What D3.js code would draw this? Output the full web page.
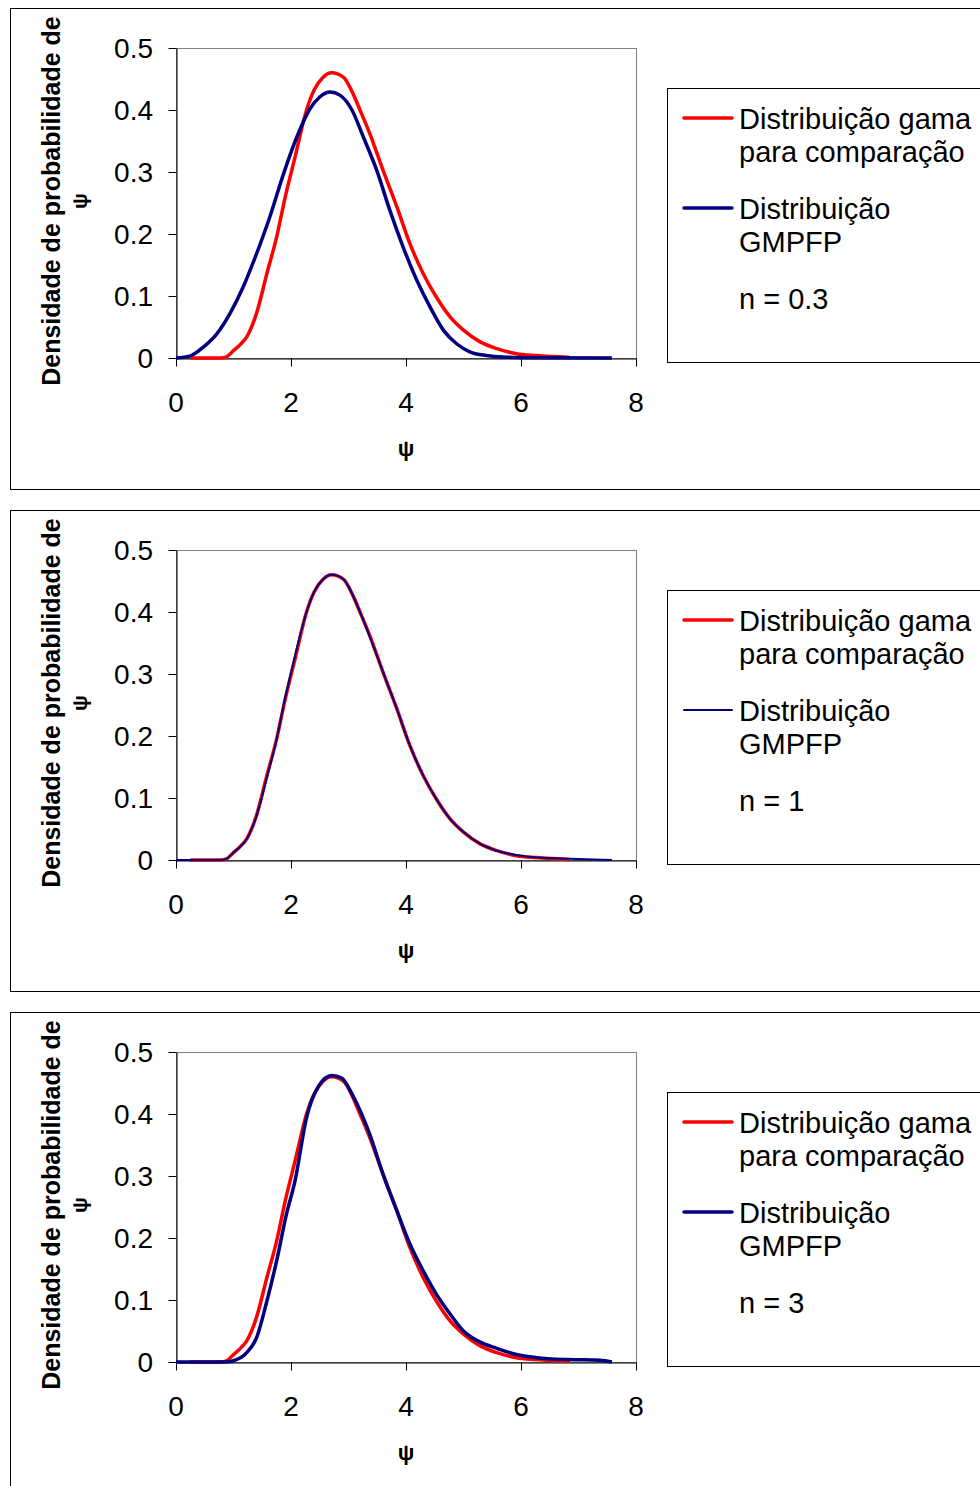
<!DOCTYPE html>
<html>
<head>
<meta charset="utf-8">
<script src="https://cdn.jsdelivr.net/npm/d3@7"></script>
<style>
  body { margin: 0; background: #fff; }
  text { font-family: "Liberation Sans", Arial, sans-serif; fill: #000; }
</style>
</head>
<body>
<div id="chart"></div>
<script>
// tick values
var xTicks = [0, 2, 4, 6, 8];
var yTicks = [0, 0.1, 0.2, 0.3, 0.4, 0.5];

// gamma distribution (red), same in all three panels
var psiGamma = [0.25, 0.77, 0.88, 1.0, 1.12, 1.23, 1.40, 1.58, 1.75, 1.90, 2.07, 2.27, 2.40, 2.55, 2.71, 2.91, 3.08, 3.20, 3.37, 3.60, 3.84, 4.07, 4.30, 4.53, 4.77, 5.0, 5.29, 5.58, 5.92, 6.27, 6.85];
var densGamma = [0, 0, 0.002, 0.012, 0.022, 0.034, 0.072, 0.136, 0.195, 0.26, 0.324, 0.40, 0.432, 0.452, 0.460, 0.453, 0.426, 0.40, 0.362, 0.303, 0.244, 0.184, 0.136, 0.098, 0.066, 0.045, 0.026, 0.015, 0.007, 0.004, 0.001];

// GMPFP, n = 0.3
var psiGmpfp03 = [0, 0.24, 0.48, 0.71, 0.94, 1.17, 1.40, 1.63, 1.87, 2.10, 2.33, 2.50, 2.68, 2.85, 3.06, 3.26, 3.49, 3.72, 3.95, 4.19, 4.42, 4.65, 4.88, 5.11, 5.40, 5.69, 6.2, 7.58];
var densGmpfp03 = [0, 0.003, 0.018, 0.039, 0.072, 0.115, 0.168, 0.227, 0.297, 0.356, 0.402, 0.421, 0.429, 0.424, 0.40, 0.356, 0.303, 0.238, 0.179, 0.125, 0.082, 0.045, 0.023, 0.010, 0.004, 0.0015, 0.0005, 0];

// GMPFP, n = 1
var psiGmpfp1 = [0, 0.77, 0.88, 1.0, 1.12, 1.23, 1.40, 1.58, 1.75, 1.90, 2.07, 2.27, 2.40, 2.55, 2.71, 2.91, 3.08, 3.20, 3.37, 3.60, 3.84, 4.07, 4.30, 4.53, 4.77, 5.0, 5.29, 5.58, 5.92, 6.27, 6.85, 7.58];
var densGmpfp1 = [0, 0, 0.002, 0.012, 0.022, 0.034, 0.071, 0.133, 0.195, 0.262, 0.330, 0.400, 0.432, 0.452, 0.460, 0.453, 0.426, 0.40, 0.360, 0.303, 0.244, 0.184, 0.136, 0.098, 0.066, 0.045, 0.026, 0.015, 0.008, 0.004, 0.002, 0];

// GMPFP, n = 3
var psiGmpfp3 = [0, 0.85, 1.0, 1.23, 1.40, 1.58, 1.75, 1.92, 2.07, 2.27, 2.48, 2.71, 2.88, 3.08, 3.37, 3.60, 3.84, 4.07, 4.30, 4.53, 4.77, 5.0, 5.29, 5.58, 5.92, 6.27, 6.8, 7.37, 7.58];
var densGmpfp3 = [0, 0, 0.002, 0.015, 0.039, 0.098, 0.163, 0.238, 0.292, 0.394, 0.445, 0.462, 0.458, 0.429, 0.367, 0.303, 0.244, 0.190, 0.147, 0.109, 0.077, 0.050, 0.032, 0.022, 0.012, 0.007, 0.004, 0.003, 0];

var legendGamma = ["Distribuição gama", "para comparação"];
var legendGmpfp = ["Distribuição", "GMPFP"];
var nLabels = ["n = 0.3", "n = 1", "n = 3"];

var panels = [
  { psi: psiGmpfp03, dens: densGmpfp03, label: nLabels[0], blueWidth: 3.5 },
  { psi: psiGmpfp1, dens: densGmpfp1, label: nLabels[1], blueWidth: 2 },
  { psi: psiGmpfp3, dens: densGmpfp3, label: nLabels[2], blueWidth: 3.5 }
];

var svgWidth = 980;
var svgHeight = 1486;
var panelStep = 502;

var plot = { left: 176, top: 48, width: 460, height: 310 };

var svg = d3.select("#chart")
  .append("svg")
  .attr("width", svgWidth)
  .attr("height", svgHeight);

var xScale = d3.scaleLinear().domain([0, 8]).range([plot.left, plot.left + plot.width]);
var yScale = d3.scaleLinear().domain([0, 0.5]).range([plot.top + plot.height, plot.top]);

function addText(g, x, y, str, opts) {
  opts = opts || {};
  return g.append("text")
    .attr("transform", `translate(${x}, ${y})` + (opts.rotate ? " rotate(-90)" : ""))
    .attr("text-anchor", opts.anchor || "start")
    .style("font-size", (opts.size || 29) + "px")
    .style("font-weight", opts.bold ? "bold" : "normal")
    .text(str);
}

function toPoints(xs, ys) {
  return xs.map(function (x, i) { return [x, ys[i]]; });
}

var line = d3.line()
  .x(d => xScale(d[0]))
  .y(d => yScale(d[1]))
  .curve(d3.curveMonotoneX);

panels.forEach(function (p, i) {
  var g = svg.append("g").attr("transform", `translate(0, ${i * panelStep})`);

  // outer frame
  g.append("rect")
    .attr("x", 10.5).attr("y", 8.5)
    .attr("width", 1000).attr("height", 481)
    .attr("fill", "none").attr("stroke", "#000").attr("stroke-width", 1);

  // plot area frame
  g.append("rect")
    .attr("x", plot.left + 0.5).attr("y", plot.top + 0.5)
    .attr("width", plot.width).attr("height", plot.height)
    .attr("fill", "none").attr("stroke", "#808080").attr("stroke-width", 1);

  // axes
  var leftAxis = d3.axisLeft(yScale).tickValues(yTicks).tickSize(8).tickSizeOuter(0).tickFormat("");
  var bottomAxis = d3.axisBottom(xScale).tickValues(xTicks).tickSize(8).tickSizeOuter(0).tickFormat("");

  var yAxisG = g.append("g").attr("transform", `translate(${plot.left + 0.5}, 0)`).call(leftAxis);
  var xAxisG = g.append("g").attr("transform", `translate(0, ${plot.top + plot.height + 0.5})`).call(bottomAxis);
  [yAxisG, xAxisG].forEach(function (a) {
    a.selectAll("path").attr("stroke", "#000");
    a.selectAll("line").attr("stroke", "#000");
  });

  // tick labels
  yTicks.forEach(function (v) {
    addText(g, 153, yScale(v) + 10, v === 0 ? "0" : d3.format(".1f")(v), { anchor: "end", size: 28 });
  });
  xTicks.forEach(function (v) {
    addText(g, xScale(v), 412, String(v), { anchor: "middle", size: 28 });
  });

  // axis titles
  addText(g, 406, 456, "ψ", { anchor: "middle", bold: true, size: 22 });
  addText(g, 60, 201, "Densidade de probabilidade de", { anchor: "middle", bold: true, rotate: true, size: 25 });
  addText(g, 87, 201, "ψ", { anchor: "middle", bold: true, rotate: true, size: 21 });

  // curves
  g.append("path")
    .datum(toPoints(psiGamma, densGamma))
    .attr("d", line)
    .attr("fill", "none")
    .attr("stroke", "#ff0000")
    .attr("stroke-width", 3.5)
    .attr("stroke-linejoin", "round");

  g.append("path")
    .datum(toPoints(p.psi, p.dens))
    .attr("d", line)
    .attr("fill", "none")
    .attr("stroke", "#000080")
    .attr("stroke-width", p.blueWidth)
    .attr("stroke-linejoin", "round");

  // legend
  g.append("rect")
    .attr("x", 667.5).attr("y", 88.5)
    .attr("width", 400).attr("height", 274)
    .attr("fill", "none").attr("stroke", "#000").attr("stroke-width", 1);

  g.append("line")
    .attr("x1", 684).attr("x2", 732).attr("y1", 118).attr("y2", 118)
    .attr("stroke", "#ff0000").attr("stroke-width", 3.5).attr("stroke-linecap", "round");
  g.append("line")
    .attr("x1", 684).attr("x2", 732).attr("y1", 208).attr("y2", 208)
    .attr("stroke", "#000080").attr("stroke-width", p.blueWidth).attr("stroke-linecap", "round");

  addText(g, 739, 129, legendGamma[0]);
  addText(g, 739, 162, legendGamma[1]);
  addText(g, 739, 219, legendGmpfp[0]);
  addText(g, 739, 252, legendGmpfp[1]);
  addText(g, 739, 309, p.label);
});
</script>
</body>
</html>
